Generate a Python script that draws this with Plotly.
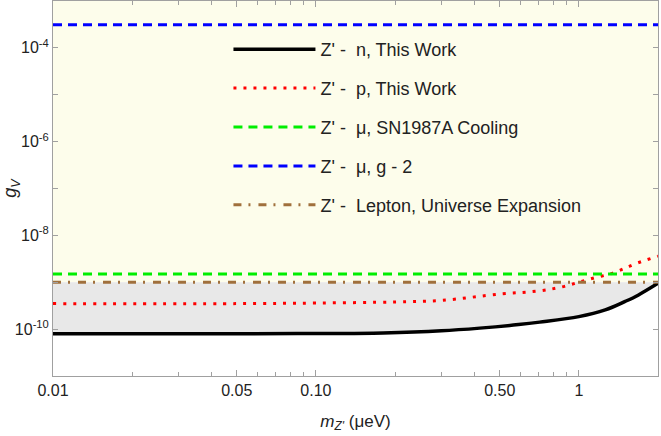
# exclusion limits on the Z' vector coupling g_V vs m_Z'
import plotly.graph_objects as go

# mass grid (micro eV) for the curves
m_n = [0.01, 0.05, 0.1, 0.18, 0.3, 0.42, 0.59, 0.71, 1.0, 1.26, 1.5, 1.68, 2.0]
g_n = [8.0e-11, 8.0e-11, 8.05e-11, 8.3e-11, 9.2e-11, 1.05e-10, 1.25e-10, 1.41e-10,
       1.85e-10, 2.57e-10, 3.9e-10, 5.3e-10, 9.5e-10]

m_p = [0.01, 0.05, 0.1, 0.2, 0.3, 0.5, 0.7, 0.85, 1.0, 1.15, 1.34, 1.5, 1.68, 2.0]
g_p = [3.5e-10, 3.5e-10, 3.6e-10, 3.8e-10, 4.1e-10, 5.6e-10, 6.5e-10, 7.8e-10,
       1.0e-9, 1.25e-9, 1.55e-9, 2.0e-9, 2.6e-9, 3.6e-9]

# constant bounds
m_span = [0.01, 2.0]
g_sn1987a = 1.5e-9
g_gminus2 = 3.1e-4
g_lepton = 1.0e-9
g_top = 1e-3

labels = ["Z' -  n, This Work", "Z' -  p, This Work", "Z' -  μ, SN1987A Cooling",
          "Z' -  μ, g - 2", "Z' -  Lepton, Universe Expansion"]

fig = go.Figure()

# yellow band: everything above the lepton bound
fig.add_trace(go.Scatter(x=m_span, y=[g_lepton] * 2, mode='lines',
                         line=dict(width=0), showlegend=False, hoverinfo='skip'))
fig.add_trace(go.Scatter(x=m_span, y=[g_top] * 2, mode='lines', fill='tonexty',
                         fillcolor='#fdfdeb', line=dict(width=0),
                         showlegend=False, hoverinfo='skip'))

# gray band between neutron curve and lepton bound
fig.add_trace(go.Scatter(x=m_n, y=[g_lepton] * len(m_n), mode='lines',
                         line=dict(width=0), showlegend=False, hoverinfo='skip'))
fig.add_trace(go.Scatter(x=m_n, y=g_n, mode='lines', fill='tonexty',
                         fillcolor='#e8e8e8', line=dict(width=0, shape='spline'),
                         showlegend=False, hoverinfo='skip'))

# the lines
fig.add_trace(go.Scatter(x=m_n, y=g_n, mode='lines', name=labels[0], legendgroup='a',
                         line=dict(color='black', width=3.5, shape='spline')))
fig.add_trace(go.Scatter(x=m_p, y=g_p, mode='lines', name=labels[1], legendgroup='b',
                         line=dict(color='#ff0000', width=3, dash='3px,7px', shape='spline')))
fig.add_trace(go.Scatter(x=m_span, y=[g_sn1987a] * 2, mode='lines', name=labels[2],
                         legendgroup='c', line=dict(color='#00ee00', width=3, dash='9px,6px')))
fig.add_trace(go.Scatter(x=m_span, y=[g_gminus2] * 2, mode='lines', name=labels[3],
                         legendgroup='d', line=dict(color='#0000ff', width=3, dash='9px,6px')))
fig.add_trace(go.Scatter(x=m_span, y=[g_lepton] * 2, mode='lines', name=labels[4],
                         legendgroup='e',
                         line=dict(color='#a0703c', width=3, dash='8px,7px,2px,8px')))

axis_col = '#a0a0a0'
fam = 'Liberation Sans, Arial'
txt = dict(family=fam, size=16, color='#222222')

fig.update_xaxes(type='log', range=[-2, 0.301], showgrid=False, zeroline=False,
                 showline=True, linecolor=axis_col, linewidth=1, mirror='ticks',
                 ticks='inside', ticklen=6, tickcolor=axis_col,
                 tickvals=[0.01, 0.05, 0.1, 0.5, 1], ticktext=['0.01', '0.05', '0.10', '0.50', '1'],
                 minor=dict(tickvals=[0.02, 0.03, 0.04, 0.06, 0.07, 0.08, 0.09,
                                      0.2, 0.3, 0.4, 0.6, 0.7, 0.8, 0.9, 2],
                            ticks='inside', ticklen=4, tickcolor=axis_col),
                 tickfont=txt,
                 title=dict(text="<i>m</i><sub><i>Z'</i></sub> (μeV)",
                            font=dict(family=fam, size=17, color='#222222'), standoff=16))

fig.update_yaxes(type='log', range=[-11, -3], showgrid=False, zeroline=False,
                 showline=True, linecolor=axis_col, linewidth=1, mirror='ticks',
                 ticks='inside', ticklen=5, tickcolor=axis_col,
                 tickvals=[1e-10, 1e-8, 1e-6, 1e-4],
                 ticktext=['10<sup>-10</sup>', '10<sup>-8</sup>', '10<sup>-6</sup>', '10<sup>-4</sup>'],
                 minor=dict(tickvals=[1e-11, 1e-9, 1e-7, 1e-5, 1e-3],
                            ticks='inside', ticklen=5, tickcolor=axis_col),
                 tickfont=txt,
                 title=dict(text="<i>g</i><sub><i>V</i></sub>",
                            font=dict(family=fam, size=18, color='#222222'), standoff=2))

fig.update_layout(
    width=661, height=436,
    margin=dict(l=50, r=3, t=0, b=60),
    plot_bgcolor='white', paper_bgcolor='white',
    font=txt,
    legend=dict(x=0.29, y=0.92, xanchor='left', yanchor='top',
                bgcolor='rgba(0,0,0,0)', font=dict(family=fam, size=18, color='#222222'),
                tracegroupgap=12.5, itemwidth=82),
)

fig.write_html("out.html", config={'displayModeBar': False},
               post_script="document.body.style.margin='0';")
